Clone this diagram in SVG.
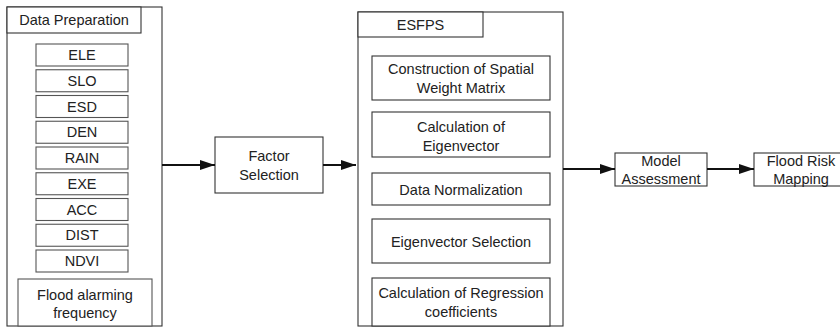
<svg xmlns="http://www.w3.org/2000/svg" width="840" height="328" viewBox="0 0 840 328">
<style>
  .box{fill:#fff;stroke:#333;stroke-width:1.1}
  .ibox{fill:#fff;stroke:#555;stroke-width:1.1}
  text{font-family:"Liberation Sans",Arial,sans-serif;font-size:14.5px;fill:#222;text-anchor:middle}
  .conn{stroke:#111;stroke-width:2;fill:none}
</style>
<defs>
  <marker id="arr" markerUnits="userSpaceOnUse" markerWidth="15" markerHeight="10" refX="15" refY="5" orient="auto">
    <path d="M0,0 L15,5 L0,10 z" fill="#111"/>
  </marker>
</defs>
<rect x="0" y="0" width="840" height="328" fill="#fff"/>

<g id="data-preparation">
  <rect class="box" x="7" y="7" width="155" height="319"/>
  <rect class="box" x="7" y="7" width="134" height="26"/>
  <text x="74" y="25">Data Preparation</text>
</g>
<g id="ele"><rect class="ibox" x="36" y="44" width="92" height="22"/><text x="82" y="60">ELE</text></g>
<g id="slo"><rect class="ibox" x="36" y="69.75" width="92" height="22"/><text x="82" y="85.75">SLO</text></g>
<g id="esd"><rect class="ibox" x="36" y="95.5" width="92" height="22"/><text x="82" y="111.5">ESD</text></g>
<g id="den"><rect class="ibox" x="36" y="121.25" width="92" height="22"/><text x="82" y="137.25">DEN</text></g>
<g id="rain"><rect class="ibox" x="36" y="147" width="92" height="22"/><text x="82" y="163">RAIN</text></g>
<g id="exe"><rect class="ibox" x="36" y="172.75" width="92" height="22"/><text x="82" y="188.75">EXE</text></g>
<g id="acc"><rect class="ibox" x="36" y="198.5" width="92" height="22"/><text x="82" y="214.5">ACC</text></g>
<g id="dist"><rect class="ibox" x="36" y="224.25" width="92" height="22"/><text x="82" y="240.25">DIST</text></g>
<g id="ndvi"><rect class="ibox" x="36" y="250" width="92" height="22"/><text x="82" y="266">NDVI</text></g>
<g id="flood-alarming">
  <rect class="ibox" x="18" y="279" width="134" height="47"/>
  <text x="85" y="300">Flood alarming</text>
  <text x="85" y="318">frequency</text>
</g>

<g id="factor-selection">
  <rect class="box" x="215" y="137" width="108" height="56"/>
  <text x="269" y="161">Factor</text>
  <text x="269" y="180">Selection</text>
</g>

<g id="esfps">
  <rect class="box" x="358" y="12" width="205" height="314"/>
  <rect class="box" x="358" y="12" width="125" height="25"/>
  <text x="420.5" y="30">ESFPS</text>
</g>
<g id="spatial-weight">
  <rect class="box" x="372" y="56" width="178" height="44"/>
  <text x="461" y="74">Construction of Spatial</text>
  <text x="461" y="93">Weight Matrix</text>
</g>
<g id="calc-eigen">
  <rect class="box" x="372" y="112" width="178" height="45"/>
  <text x="461" y="132">Calculation of</text>
  <text x="461" y="151">Eigenvector</text>
</g>
<g id="normalization">
  <rect class="box" x="372" y="173" width="178" height="32"/>
  <text x="461" y="195">Data Normalization</text>
</g>
<g id="eigen-selection">
  <rect class="box" x="372" y="219" width="178" height="44"/>
  <text x="461" y="247">Eigenvector Selection</text>
</g>
<g id="regression">
  <rect class="box" x="372" y="278" width="178" height="48"/>
  <text x="461" y="298">Calculation of Regression</text>
  <text x="461" y="317">coefficients</text>
</g>

<g id="model-assessment">
  <rect class="box" x="615" y="153" width="92" height="33"/>
  <text x="661" y="166">Model</text>
  <text x="661" y="184">Assessment</text>
</g>
<g id="flood-risk-mapping">
  <rect class="box" x="754" y="153" width="90" height="33"/>
  <text x="801" y="166">Flood Risk</text>
  <text x="801" y="184">Mapping</text>
</g>

<g id="connectors">
  <line class="conn" x1="162" y1="165" x2="215" y2="165" marker-end="url(#arr)"/>
  <line class="conn" x1="323" y1="165" x2="356" y2="165" marker-end="url(#arr)"/>
  <line class="conn" x1="563" y1="169" x2="615" y2="169" marker-end="url(#arr)"/>
  <line class="conn" x1="707" y1="169" x2="754" y2="169" marker-end="url(#arr)"/>
</g>
</svg>
